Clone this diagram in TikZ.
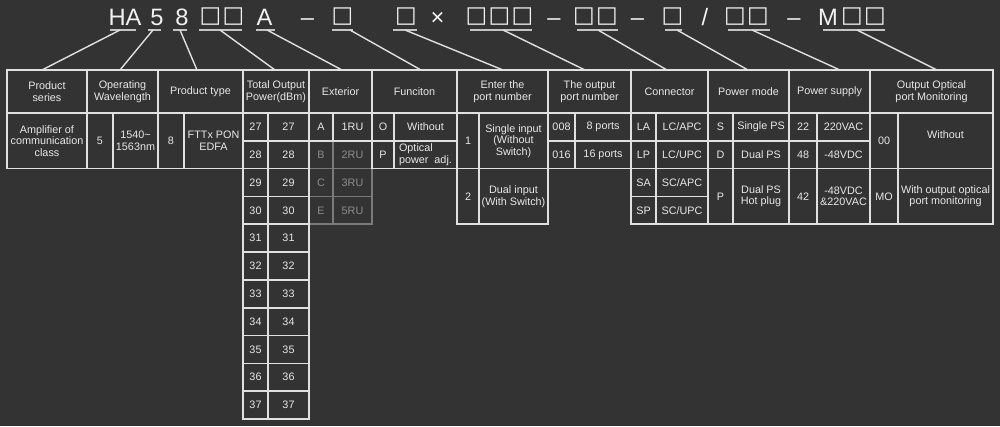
\documentclass[tikz,border=0pt]{standalone}
\usepackage{fontspec}
\usepackage{graphicx}
\setmainfont{Liberation Sans}
\newfontfamily\sqfont{DejaVu Sans}
\definecolor{bg}{HTML}{333333}
\definecolor{ln}{HTML}{E0E0E0}
\definecolor{dim}{HTML}{7A7A7A}
\definecolor{dimtxt}{HTML}{8C8C8C}
\definecolor{txt}{HTML}{E8E8E8}
\definecolor{codecol}{HTML}{F2F2F2}
\definecolor{ulcol}{HTML}{C4C4C4}
\newcommand\sqbox{\makebox[23pt][c]{\resizebox*{!}{17.5pt}{\sqfont □}}}
\newcommand\tcell[7][]{\node[cellbox,minimum width={(#5-#3)*1pt},minimum height={(#6-#4)*1pt},#1] (#2) at ({(#3+#5)/2},{(#4+#6)/2}) {#7};}
\tikzset{
  cellbox/.style={draw=ln, line width=1.7pt, inner sep=1pt, outer sep=0pt, text=txt, align=center, font=\fontsize{10.8}{11.5}\selectfont},
  dimcell/.style={draw=dim, text=dimtxt},
  codetxt/.style={anchor=base, inner sep=0pt, outer sep=0pt, text=codecol, font=\fontsize{23.7}{24}\selectfont},
  sqtxt/.style={anchor=center, inner sep=0pt, outer sep=0pt, text=codecol},
  ulin/.style={draw=ulcol, line width=2pt},
  conn/.style={draw=ln, line width=1.4pt}
}
\begin{document}
\begin{tikzpicture}[x=1pt,y=-1pt]
\fill[bg] (0,0) rectangle (1000,426);
\useasboundingbox (0,0) rectangle (1000,426);
% ---- code line ----
\node[codetxt] (tHA) at (125,25) {HA};
\node[codetxt] (t5) at (157,25) {5};
\node[codetxt] (t8) at (182,25) {8};
\node[sqtxt] (tq1) at (222,16.5) {\sqbox\sqbox};
\node[codetxt] (tA) at (264.5,25) {A};
\node[codetxt] (td1) at (307.5,25) {–};
\node[sqtxt] (tq2) at (342.5,16.5) {\sqbox};
\node[sqtxt] (tq3) at (406,16.5) {\sqbox};
\node[codetxt] (tx) at (437.5,25) {×};
\node[sqtxt] (tq4) at (499.5,16.5) {\sqbox\sqbox\sqbox};
\node[codetxt] (td2) at (554,25) {–};
\node[sqtxt] (tq5) at (595.5,16.5) {\sqbox\sqbox};
\node[codetxt] (td3) at (637.5,25) {–};
\node[sqtxt] (tq6) at (672.5,16.5) {\sqbox};
\node[codetxt] (tsl) at (705,25) {/};
\node[sqtxt] (tq7) at (746.5,16.5) {\sqbox\sqbox};
\node[codetxt] (td4) at (794,25) {–};
\node[codetxt] (tM) at (828,25) {M};
\node[sqtxt] (tq8) at (863.5,16.5) {\sqbox\sqbox};
% underlines
\draw[ulin] (110,30) -- (136,30);
\draw[ulin] (148,30) -- (161,30);
\draw[ulin] (173,30) -- (187,30);
\draw[ulin] (199,30) -- (242,30);
\draw[ulin] (256,30) -- (275,30);
\draw[ulin] (332,30) -- (353,30);
\draw[ulin] (393,30) -- (417,30);
\draw[ulin] (470,30) -- (532,30);
\draw[ulin] (577,30) -- (618,30);
\draw[ulin] (665,30) -- (682,30);
\draw[ulin] (728,30) -- (770,30);
\draw[ulin] (823,30) -- (885,30);
\coordinate (s1) at (120,30);
\coordinate (s2) at (153,30);
\coordinate (s3) at (180,30);
\coordinate (s4) at (220,30);
\coordinate (s5) at (267,30);
\coordinate (s6) at (350,30);
\coordinate (s7) at (405,30);
\coordinate (s8) at (503,30);
\coordinate (s9) at (598,30);
\coordinate (s10) at (677,30);
\coordinate (s11) at (752,30);
\coordinate (s12) at (857,30);
% ---- dim exterior cells first ----
\tcell[dimcell]{eB}{309}{140.8}{333}{168.6}{B}
\tcell[dimcell]{eB2}{333}{140.8}{372}{168.6}{2RU}
\tcell[dimcell]{eC}{309}{168.6}{333}{196.5}{C}
\tcell[dimcell]{eC2}{333}{168.6}{372}{196.5}{3RU}
\tcell[dimcell]{eE}{309}{196.5}{333}{224.3}{E}
\tcell[dimcell]{eE2}{333}{196.5}{372}{224.3}{5RU}
% ---- header ----
\tcell{h1}{7}{70}{87}{113}{Product\\series}
\tcell{h2}{87}{70}{158}{113}{Operating\\Wavelength}
\tcell{h3}{158}{70}{243}{113}{Product type}
\tcell{h4}{243}{70}{309}{113}{Total Output\\Power(dBm)}
\tcell{h5}{309}{70}{372}{113}{Exterior}
\tcell{h6}{372}{70}{457}{113}{Funciton}
\tcell{h7}{457}{70}{548}{113}{Enter the\\port number}
\tcell{h8}{548}{70}{631}{113}{The output\\port number}
\tcell{h9}{631}{70}{708}{113}{Connector}
\tcell{h10}{708}{70}{789}{113}{Power mode}
\tcell{h11}{789}{70}{870}{113}{Power supply}
\tcell{h12}{870}{70}{993}{113}{Output Optical\\port Monitoring}
% ---- left data ----
\tcell{c1}{7}{113}{87}{168.6}{Amplifier of\\communication\\class}
\tcell{c2a}{87}{113}{113}{168.6}{5}
\tcell{c2b}{113}{113}{158}{168.6}{1540\textasciitilde\\1563nm}
\tcell{c3a}{158}{113}{184}{168.6}{8}
\tcell{c3b}{184}{113}{243}{168.6}{FTTx PON\\EDFA}
\foreach \i in {0,...,10}{
  \pgfmathsetmacro\ya{113+27.818*\i}
  \pgfmathsetmacro\yb{113+27.818*(\i+1)}
  \pgfmathtruncatemacro\v{27+\i}
  \tcell{pa\i}{243}{\ya}{268}{\yb}{\v}
  \tcell{pb\i}{268}{\ya}{309}{\yb}{\v}
}
\tcell{eA}{309}{113}{333}{140.8}{A}
\tcell{eA2}{333}{113}{372}{140.8}{1RU}
\tcell{fO}{372}{113}{394}{140.8}{O}
\tcell{fO2}{394}{113}{457}{140.8}{Without}
\tcell{fP}{372}{140.8}{394}{168.6}{P}
\tcell[align=left]{fP2}{394}{140.8}{457}{168.6}{Optical\\power\ \ adj.}
% ---- right data ----
\tcell{i1}{457}{113}{479}{168.6}{1}
\tcell{i1b}{479}{113}{548}{168.6}{Single input\\(Without\\Switch)}
\tcell{i2}{457}{168.6}{479}{224.3}{2}
\tcell{i2b}{479}{168.6}{548}{224.3}{Dual input\\(With Switch)}
\tcell{o1}{548}{113}{575}{140.8}{008}
\tcell{o1b}{575}{113}{631}{140.8}{8 ports}
\tcell{o2}{548}{140.8}{575}{168.6}{016}
\tcell{o2b}{575}{140.8}{631}{168.6}{16 ports}
\tcell{k1}{631}{113}{656}{140.8}{LA}
\tcell{k1b}{656}{113}{708}{140.8}{LC/APC}
\tcell{k2}{631}{140.8}{656}{168.6}{LP}
\tcell{k2b}{656}{140.8}{708}{168.6}{LC/UPC}
\tcell{k3}{631}{168.6}{656}{196.5}{SA}
\tcell{k3b}{656}{168.6}{708}{196.5}{SC/APC}
\tcell{k4}{631}{196.5}{656}{224.3}{SP}
\tcell{k4b}{656}{196.5}{708}{224.3}{SC/UPC}
\tcell{m1}{708}{113}{733}{140.8}{S}
\tcell{m1b}{733}{113}{789}{140.8}{Single PS}
\tcell{m2}{708}{140.8}{733}{168.6}{D}
\tcell{m2b}{733}{140.8}{789}{168.6}{Dual PS}
\tcell{m3}{708}{168.6}{733}{224.3}{P}
\tcell{m3b}{733}{168.6}{789}{224.3}{Dual PS\\Hot plug}
\tcell{p1}{789}{113}{817}{140.8}{22}
\tcell{p1b}{817}{113}{870}{140.8}{220VAC}
\tcell{p2}{789}{140.8}{817}{168.6}{48}
\tcell{p2b}{817}{140.8}{870}{168.6}{-48VDC}
\tcell{p3}{789}{168.6}{817}{224.3}{42}
\tcell{p3b}{817}{168.6}{870}{224.3}{-48VDC\\\&220VAC}
\tcell{n1}{870}{113}{898}{168.6}{00}
\tcell{n1b}{898}{113}{993}{168.6}{\raisebox{6pt}[\height][\depth]{Without}}
\tcell{n2}{870}{168.6}{898}{224.3}{MO}
\tcell{n2b}{898}{168.6}{993}{224.3}{With output optical\\port monitoring}
% ---- connectors ----
\draw[conn] (s1) -- ([xshift=-5pt]h1.north);
\draw[conn] (s2) -- ([xshift=-2.5pt]h2.north);
\draw[conn] (s3) -- ([xshift=-3.5pt]h3.north);
\draw[conn] (s4) -- ([xshift=-1pt]h4.north);
\draw[conn] (s5) -- ([xshift=1.5pt]h5.north);
\draw[conn] (s6) -- ([xshift=6.5pt]h6.north);
\draw[conn] (s7) -- ([xshift=0.5pt]h7.north);
\draw[conn] (s8) -- ([xshift=-4.5pt]h8.north);
\draw[conn] (s9) -- ([xshift=-2.5pt]h9.north);
\draw[conn] (s10) -- ([xshift=-0.5pt]h10.north);
\draw[conn] (s11) -- ([xshift=10.5pt]h11.north);
\draw[conn] (s12) -- ([xshift=5.5pt]h12.north);
\end{tikzpicture}
\end{document}
